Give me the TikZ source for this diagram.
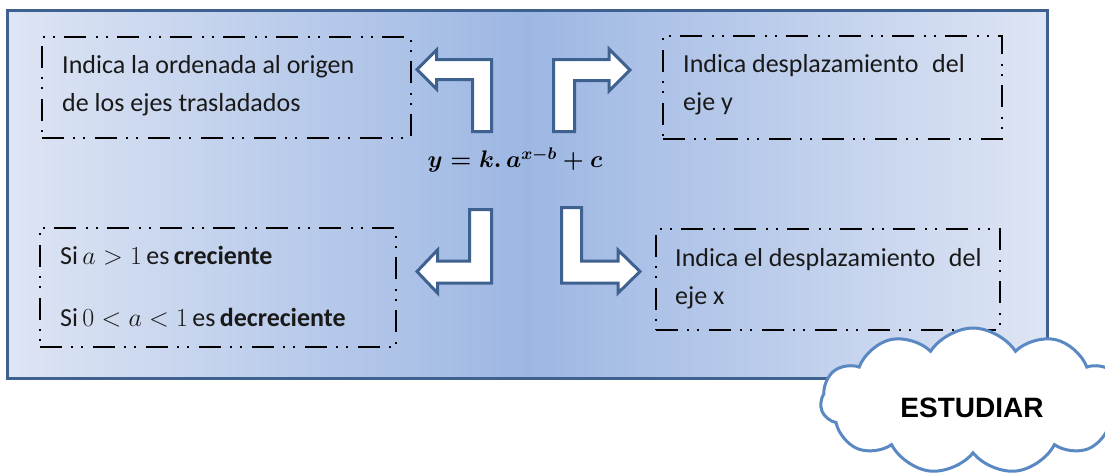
\RequirePackage{fix-cm}
\documentclass[tikz,border=0pt]{standalone}
\usepackage[no-math]{fontspec}
\setmainfont{Carlito}
\newfontfamily\arialb{Liberation Sans}
\usetikzlibrary{shapes.symbols}
\definecolor{edgeblue}{HTML}{DEE5F4}
\definecolor{midblue}{HTML}{9DB7E3}
\definecolor{frameblue}{HTML}{3F6190}
\definecolor{cloudblue}{HTML}{5A88C2}
\tikzset{
  mainframe/.style={draw=frameblue, line width=3pt, left color=edgeblue, right color=edgeblue, middle color=midblue},
  dashbox/.style={draw=black, line width=2.4pt, dash pattern=on 22pt off 9pt on 2pt off 8pt on 2pt off 10pt, inner sep=0pt},
  blockarrow/.style={draw=frameblue, fill=white, line width=3pt, line join=miter},
  txt/.style={font=\fontsize{26}{30}\selectfont, inner sep=0pt, anchor=base west, text=black!90},
  eqtxt/.style={font=\fontsize{24}{28}\selectfont\boldmath, inner sep=0pt},
}
\begin{document}
\begin{tikzpicture}[x=1pt,y=-1pt]
\useasboundingbox (0,0) rectangle (1105,475);
% main frame
\draw[mainframe] (7.5,10.5) rectangle (1047.5,378.5);
% dash-dot boxes
\node[dashbox, minimum width=369pt, minimum height=101pt] (b1) at (226.5,87.5) {};
\node[dashbox, minimum width=339pt, minimum height=103pt] (b2) at (832.5,87.5) {};
\node[dashbox, minimum width=356pt, minimum height=119pt] (b3) at (218,287.5) {};
\node[dashbox, minimum width=344pt, minimum height=101pt] (b4) at (828,279.5) {};
% texts
\node[txt] (t1a) at (62,73) {Indica la ordenada al origen};
\node[txt] (t1b) at (62,111) {de los ejes trasladados};
\node[txt] (t2a) at (683,72) {Indica desplazamiento\hspace{0.3em} del};
\node[txt] (t2b) at (683,110) {eje y};
\node[txt] (t3a) at (60,264) {Si\,$a>1$\,es\,\textbf{creciente}};
\node[txt] (t3b) at (60,326) {Si\,$0<a<1$\,es\,\textbf{decreciente}};
\node[txt] (t4a) at (675,266) {Indica el desplazamiento\hspace{0.3em} del};
\node[txt] (t4b) at (675,304) {eje x};
% equation
\node[eqtxt] (eq) at (515,160) {$y=k.\,a^{x-b}+c$};
% bent block arrows
\draw[blockarrow] (491.5,131.5) -- (491.5,59.5) -- (436.5,59.5) -- (436.5,50) -- (417,69.5) -- (436.5,89) -- (436.5,79.5) -- (472.5,79.5) -- (472.5,131.5) -- cycle;
\draw[blockarrow] (553.5,131.5) -- (553.5,59.5) -- (609,59.5) -- (609,49) -- (630,70) -- (609,91) -- (609,80.5) -- (574.5,80.5) -- (574.5,131.5) -- cycle;
\draw[blockarrow] (491.5,209.5) -- (491.5,283) -- (437.5,283) -- (437.5,293) -- (417,271.5) -- (437.5,250) -- (437.5,261) -- (469.5,261) -- (469.5,209.5) -- cycle;
\draw[blockarrow] (561.5,207.5) -- (561.5,283) -- (618,283) -- (618,293) -- (640,271.5) -- (618,250) -- (618,261) -- (581.5,261) -- (581.5,207.5) -- cycle;
% cloud
\node[cloud, draw=cloudblue, fill=white, line width=3pt, cloud puffs=11, cloud puff arc=115, cloud ignores aspect, minimum width=305pt, minimum height=146pt, inner sep=0pt] (cl) at (973,401) {};
\node[font=\arialb\bfseries\fontsize{28}{30}\selectfont, inner sep=0pt] (st) at (972,408) {ESTUDIAR};
\end{tikzpicture}
\end{document}
